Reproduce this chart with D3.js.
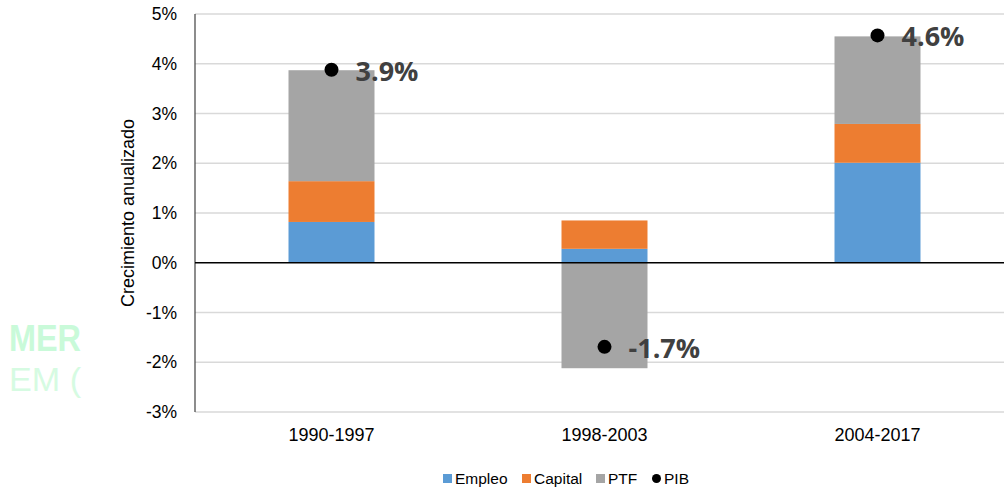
<!DOCTYPE html>
<html>
<head>
<meta charset="utf-8">
<script src="https://cdn.jsdelivr.net/npm/d3@7"></script>
<style>
html,body{margin:0;padding:0;background:#fff;}
svg{display:block;}
</style>
</head>
<body>
<svg id="chart" width="1004" height="489"></svg>
<script>
const periods = ["1990-1997", "1998-2003", "2004-2017"];
const empleo = [0.82, 0.28, 2.01];
const capital = [0.82, 0.57, 0.78];
const ptf = [2.23, -2.12, 1.76];
const pib = [3.88, -1.69, 4.57];
const pibLabels = ["3.9%", "-1.7%", "4.6%"];
const yTicks = [-3, -2, -1, 0, 1, 2, 3, 4, 5];
const seriesNames = ["Empleo", "Capital", "PTF"];
const seriesColors = ["#5b9bd5", "#ed7d31", "#a5a5a5"];
const watermarkLines = ["MER", "EM ("];

(function () {
const svg = d3.select("#chart");
const font = "'Liberation Sans', Arial, sans-serif";
const pLeft = 195, pRight = 1014, pTop = 14, pBottom = 412;

// watermark (partially hidden)
const defs = svg.append("defs");
defs.append("clipPath").attr("id", "wm").append("rect")
  .attr("x", 0).attr("y", 300).attr("width", 82).attr("height", 120);
const wm = svg.append("g").attr("clip-path", "url(#wm)").attr("fill", "#c9fad9")
  .attr("font-family", font);
wm.append("text").attr("x", 9).attr("y", 351)
  .attr("font-weight", 700).attr("font-size", 36)
  .attr("textLength", 72).attr("lengthAdjust", "spacingAndGlyphs").text(watermarkLines[0]);
wm.append("text").attr("x", 9).attr("y", 391)
  .attr("font-weight", 400).attr("font-size", 34).attr("fill", "#d6fbe2")
  .attr("textLength", 72).attr("lengthAdjust", "spacingAndGlyphs").text(watermarkLines[1]);

const x = d3.scaleBand().domain(periods).range([pLeft, pRight]).paddingInner(0.685).paddingOuter(0.3425);
const y = d3.scaleLinear().domain([-3, 5]).range([pBottom, pTop]);

// gridlines
svg.append("g").selectAll("line").data(yTicks.filter(d => d !== 0)).join("line")
  .attr("x1", pLeft).attr("x2", pRight)
  .attr("y1", d => y(d)).attr("y2", d => y(d))
  .attr("stroke", "#d9d9d9").attr("stroke-width", 1.5);

// y tick labels
svg.append("g").selectAll("text").data(yTicks).join("text")
  .attr("x", 177).attr("y", d => y(d)).attr("dy", "0.35em")
  .attr("text-anchor", "end").attr("font-family", font).attr("font-size", 17.5).attr("fill", "#000")
  .text(d => d + "%");

// y title
svg.append("text").attr("transform", `translate(134,${(pTop + pBottom) / 2}) rotate(-90)`)
  .attr("text-anchor", "middle").attr("font-family", font).attr("font-size", 18).attr("fill", "#000")
  .text("Crecimiento anualizado");

// stacked bars
const table = periods.map((p, i) => ({ period: p, Empleo: empleo[i], Capital: capital[i], PTF: ptf[i] }));
const stacked = d3.stack().keys(seriesNames).offset(d3.stackOffsetDiverging)(table);
svg.append("g").selectAll("g").data(stacked).join("g")
  .attr("fill", (d, i) => seriesColors[i])
  .selectAll("rect").data(d => d).join("rect")
  .attr("x", d => x(d.data.period))
  .attr("width", x.bandwidth())
  .attr("y", d => y(Math.max(d[0], d[1])))
  .attr("height", d => Math.abs(y(d[0]) - y(d[1])));

// axis line and zero line
svg.append("line").attr("x1", pLeft).attr("x2", pLeft).attr("y1", pTop).attr("y2", pBottom)
  .attr("stroke", "#404040").attr("stroke-width", 1.2);
svg.append("line").attr("x1", pLeft).attr("x2", pRight).attr("y1", y(0)).attr("y2", y(0))
  .attr("stroke", "#000").attr("stroke-width", 1.5);

// x labels
svg.append("g").selectAll("text").data(periods).join("text")
  .attr("x", d => x(d) + x.bandwidth() / 2).attr("y", 441)
  .attr("text-anchor", "middle").attr("font-family", font).attr("font-size", 18).attr("fill", "#000")
  .text(d => d);

// PIB points + labels
const pg = svg.append("g");
pg.selectAll("circle").data(periods).join("circle")
  .attr("cx", d => x(d) + x.bandwidth() / 2).attr("cy", (d, i) => y(pib[i])).attr("r", 7).attr("fill", "#000");
pg.selectAll("text").data(periods).join("text")
  .attr("x", d => x(d) + x.bandwidth() / 2 + 24).attr("y", (d, i) => y(pib[i]) + 11)
  .attr("font-family", "'Open Sans', sans-serif").attr("font-weight", 700).attr("font-size", 27)
  .attr("fill", "#404040").text((d, i) => pibLabels[i]);

// legend
const legendItems = [
  { name: "Empleo", color: seriesColors[0], type: "rect", x: 443 },
  { name: "Capital", color: seriesColors[1], type: "rect", x: 522 },
  { name: "PTF", color: seriesColors[2], type: "rect", x: 596 },
  { name: "PIB", color: "#000", type: "circle", x: 652 }
];
const lg = svg.append("g");
legendItems.forEach(it => {
  if (it.type === "rect") {
    lg.append("rect").attr("x", it.x).attr("y", 474).attr("width", 9).attr("height", 9).attr("fill", it.color);
  } else {
    lg.append("circle").attr("cx", it.x + 4.5).attr("cy", 478.5).attr("r", 4.5).attr("fill", it.color);
  }
  lg.append("text").attr("x", it.x + 12).attr("y", 484).attr("font-family", font).attr("font-size", 15.5)
    .attr("fill", "#000").text(it.name);
});
})();
</script>
</body>
</html>
